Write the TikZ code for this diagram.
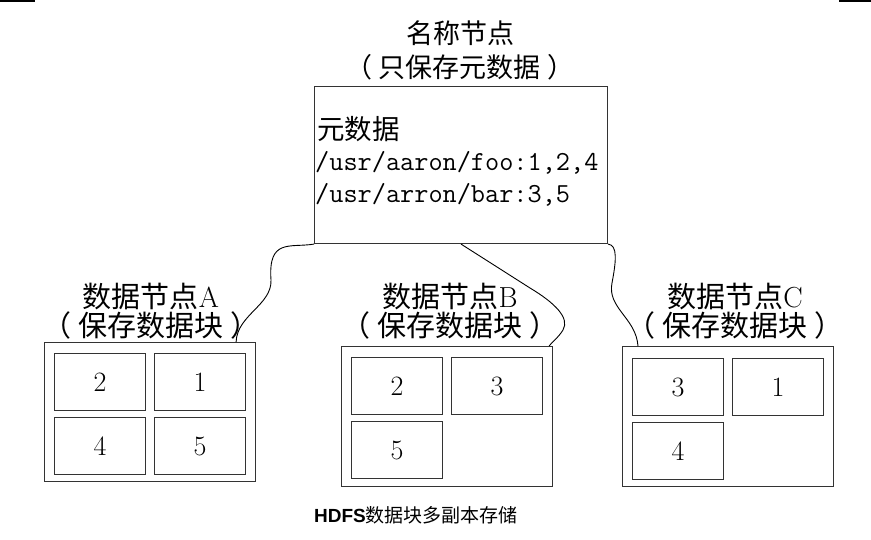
\documentclass[tikz,border=0pt]{standalone}
\usepackage{fontspec}
\newfontfamily\cjk{Noto Sans CJK SC}
\newfontfamily\capsans{Liberation Sans}
\usetikzlibrary{calc}
\newcommand{\lp}{（\hspace{0.25em}}
\newcommand{\rp}{\hspace{0.25em}）}
\begin{document}
\begin{tikzpicture}[x=1pt, y=-1pt,
    framebox/.style={rectangle, draw=black!80, line width=1.1pt, anchor=north west, inner sep=0pt},
    blockbox/.style={framebox, minimum width=91pt, minimum height=57pt, font=\fontsize{28}{30}\selectfont},
    titletext/.style={align=center, inner sep=0pt, font=\cjk\fontsize{27}{34}\selectfont},
    metatext/.style={anchor=base west, inner sep=0pt, font=\fontsize{27.5}{32}\selectfont},
    link/.style={draw=black, line width=0.9pt},
]
\useasboundingbox (0,0) rectangle (871,540);
\draw[line width=1.5pt] (0,1) -- (35,1);
\draw[line width=1.5pt] (839,1) -- (871,1);

% name node
\node[titletext] (nntitle) at (460,50) {名称节点\\\lp 只保存元数据\rp};
\node[framebox, minimum width=293pt, minimum height=157pt] (nn) at (314,86) {};
\node[metatext] (meta1) at (317,140) {\cjk 元数据};
\node[metatext] (meta2) at (315,171) {\ttfamily /usr/aaron/foo:1,2,4};
\node[metatext] (meta3) at (315,203) {\ttfamily /usr/arron/bar:3,5};

% data nodes
\node[titletext, font=\cjk\fontsize{29}{29}\selectfont] (dnAtitle) at (151,311) {数据节点{\rmfamily A}\\\lp 保存数据块\rp};
\node[framebox, minimum width=211pt, minimum height=139pt] (dnA) at (44,342) {};
\node[blockbox] (a1) at (54,353) {2};
\node[blockbox] (a2) at (154,353) {1};
\node[blockbox] (a3) at (54,417) {4};
\node[blockbox] (a4) at (154,417) {5};

\node[titletext, font=\cjk\fontsize{29}{29}\selectfont] (dnBtitle) at (450,311) {数据节点{\rmfamily B}\\\lp 保存数据块\rp};
\node[framebox, minimum width=211pt, minimum height=140pt] (dnB) at (341,346) {};
\node[blockbox] (b1) at (351,357) {2};
\node[blockbox] (b2) at (451,357) {3};
\node[blockbox] (b3) at (351,421) {5};

\node[titletext, font=\cjk\fontsize{29}{29}\selectfont] (dnCtitle) at (735,311) {数据节点{\rmfamily C}\\\lp 保存数据块\rp};
\node[framebox, minimum width=211pt, minimum height=140pt] (dnC) at (622,346) {};
\node[blockbox] (c1) at (632,358) {3};
\node[blockbox] (c2) at (732,358) {1};
\node[blockbox] (c3) at (632,422) {4};

\draw[link] (nn.south west) .. controls (290,248) and (268,238) .. (271,280)
    .. controls (272,305) and (237,315) .. ($(dnA.north east)+(-20,0)$);
\draw[link] (nn.south) -- (530,288) .. controls (555,303) and (570,318) .. (563,330)
    .. controls (558,338) and (552,342) .. ($(dnB.north east)+(-4,0)$);
\draw[link] (nn.south east) .. controls (618,245) and (616,262) .. (612,283)
    .. controls (607,308) and (636,318) .. ($(dnC.north west)+(16,0)$);

\node[inner sep=0pt, font=\fontsize{19}{22}\selectfont] (caption) at (416,515) {{\capsans\bfseries HDFS}{\cjk 数据块多副本存储}};
\end{tikzpicture}
\end{document}
